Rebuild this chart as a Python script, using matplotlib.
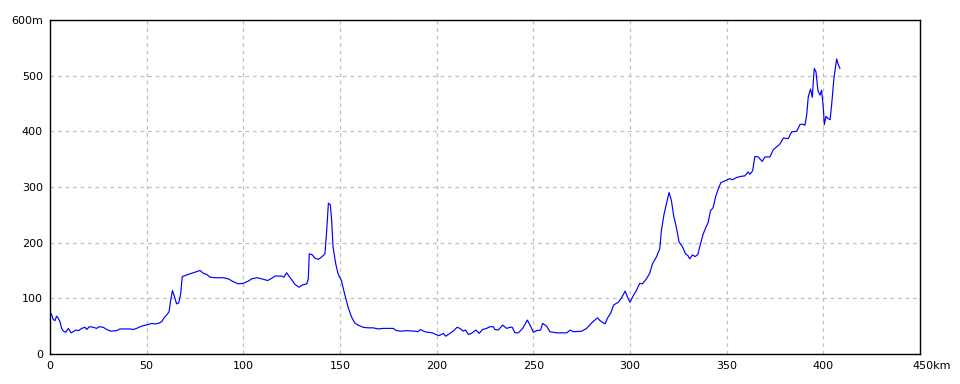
import matplotlib
matplotlib.use("Agg")
import matplotlib.pyplot as plt
import matplotlib.transforms as mtransforms

dist_km = [0, 0.9, 1.7, 2.6, 3.4, 4.3, 5.2, 6.0, 6.9, 8.1, 9.5, 10.9, 12.0, 13.4, 14.8, 16.4, 18.1, 19.0,
           20.3, 22.4, 24.1, 25.5, 27.6, 29.3, 31.4, 34.5, 36.2, 41.4, 43.1, 44.8, 46.6, 48.3, 50.9, 52.6,
           54.3, 56.0, 57.8, 59.0, 60.3, 61.6, 62.4, 63.3, 64.3, 65.5, 66.6, 67.6, 68.4, 70.7, 73.3, 75.9,
           77.6, 79.3, 81.0, 82.8, 85.3, 89.7, 92.2, 94.8, 97.4, 100.0, 102.6, 104.3, 107.0, 109.5, 112.6,
           114.7, 116.4, 119.8, 121.0, 122.4, 123.8, 125.3, 126.7, 128.8, 130.5, 132.8, 133.6, 134.1, 135.7,
           137.1, 138.8, 140.0, 141.4, 142.2, 143.1, 144.0, 145.0, 145.7, 146.4, 147.8, 149.0, 150.7, 152.4,
           154.1, 155.9, 157.6, 159.3, 161.9, 164.5, 167.1, 169.7, 172.3, 177.5, 179.2, 181.8, 184.4, 188.7,
           190.4, 191.6, 193.9, 195.6, 197.8, 199.6, 201.3, 203.4, 204.7, 206.8, 208.5, 210.6, 212.0, 213.7,
           214.9, 216.5, 218.0, 220.3, 222.0, 223.7, 225.8, 227.5, 229.3, 230.1, 231.9, 234.1, 236.2, 237.9,
           239.1, 240.5, 242.2, 244.5, 246.9, 248.3, 250.0, 251.7, 253.8, 254.8, 256.9, 258.6, 262.1, 267.3,
           269.0, 270.7, 275.0, 277.6, 280.2, 281.9, 283.2, 284.5, 287.1, 288.3, 290.1, 291.5, 294.0, 295.8,
           297.5, 298.7, 300.0, 301.6, 303.3, 305.0, 306.4, 308.5, 310.2, 311.6, 313.6, 315.4, 316.2, 317.6,
           318.8, 320.2, 321.4, 322.6, 324.0, 325.4, 327.1, 328.7, 329.9, 330.9, 332.3, 333.7, 335.1, 336.1,
           337.8, 339.2, 340.4, 341.6, 343.0, 344.4, 345.6, 347.0, 349.1, 351.6, 353.0, 355.1, 357.2, 359.4,
           361.1, 362.0, 363.4, 364.6, 366.3, 368.4, 369.8, 372.4, 374.1, 375.8, 377.5, 379.3, 381.9, 383.6,
           386.2, 387.9, 389.1, 390.5, 391.4, 392.2, 393.4, 394.3, 394.8, 395.3, 396.2, 397.2, 398.3, 399.1,
           400.0, 400.5, 401.4, 402.4, 403.5, 404.3, 405.5, 406.9, 407.8, 408.6]
elev_m = [76, 70, 62, 60, 68, 64, 58, 46, 41, 39, 46, 38, 40, 43, 42, 46, 48, 44,
          49, 48, 46, 49, 48, 44, 41, 42, 45, 45, 44, 46, 49, 51, 53, 55,
          54, 55, 58, 65, 70, 76, 96, 114, 104, 90, 92, 108, 139, 142, 145, 148,
          150, 145, 143, 138, 137, 137, 135, 130, 126, 127, 131, 135, 137, 135, 132,
          136, 140, 140, 138, 146, 139, 132, 125, 120, 124, 126, 135, 180, 178,
          172, 170, 173, 177, 180, 221, 271, 268, 239, 192, 162, 144, 132, 108,
          85, 67, 56, 52, 48, 47, 47, 45, 46, 46, 42, 41, 42, 41,
          40, 44, 40, 39, 38, 35, 33, 37, 32, 37, 41, 48, 46, 41,
          43, 35, 37, 43, 37, 44, 46, 49, 49, 44, 43, 52, 46, 48,
          48, 38, 38, 46, 61, 52, 39, 42, 43, 55, 50, 40, 38, 38,
          43, 40, 41, 46, 56, 61, 65, 60, 54, 64, 74, 88, 93, 102,
          113, 102, 93, 104, 114, 127, 126, 135, 145, 162, 174, 189, 221, 251,
          269, 290, 276, 248, 227, 201, 193, 180, 177, 171, 178, 175, 179, 193,
          215, 227, 236, 257, 263, 284, 296, 308, 311, 315, 313, 317, 319, 320,
          327, 323, 329, 355, 354, 346, 354, 354, 367, 372, 377, 388, 387, 399,
          400, 412, 413, 411, 430, 462, 476, 461, 489, 513, 507, 473, 465, 474,
          442, 412, 427, 423, 421, 448, 496, 530, 519, 513]

x_ticks = [0, 50, 100, 150, 200, 250, 300, 350, 400, 450]
x_labels = ["0", "50", "100", "150", "200", "250", "300", "350", "400", "450km"]
y_ticks = [0, 100, 200, 300, 400, 500, 600]
y_labels = ["0", "100", "200", "300", "400", "500", "600m"]

fig = plt.figure(figsize=(9.6, 3.84), dpi=100)
ax = fig.add_axes([50/960, 1 - 354/384, 870/960, 334/384])
ax.plot(dist_km, elev_m, color="#0000ff", linewidth=0.85)
ax.set_xlim(0, 450)
ax.set_ylim(0, 600)
ax.set_xticks(x_ticks)
ax.set_xticklabels(x_labels)
ax.set_yticks(y_ticks)
ax.set_yticklabels(y_labels)
ax.tick_params(length=0, labelsize=8, colors="black", pad=5)
lbl = ax.get_xticklabels()[-1]
lbl.set_horizontalalignment("left")
lbl.set_transform(lbl.get_transform() + mtransforms.ScaledTranslation(-8/100, 0, fig.dpi_scale_trans))
ax.grid(True, color="#c0c0c0", linestyle=(0, (3, 3)), linewidth=0.9)
ax.set_axisbelow(True)
for s in ax.spines.values():
    s.set_color("black")
    s.set_linewidth(1.0)
fig.savefig("out.png", dpi=100)
